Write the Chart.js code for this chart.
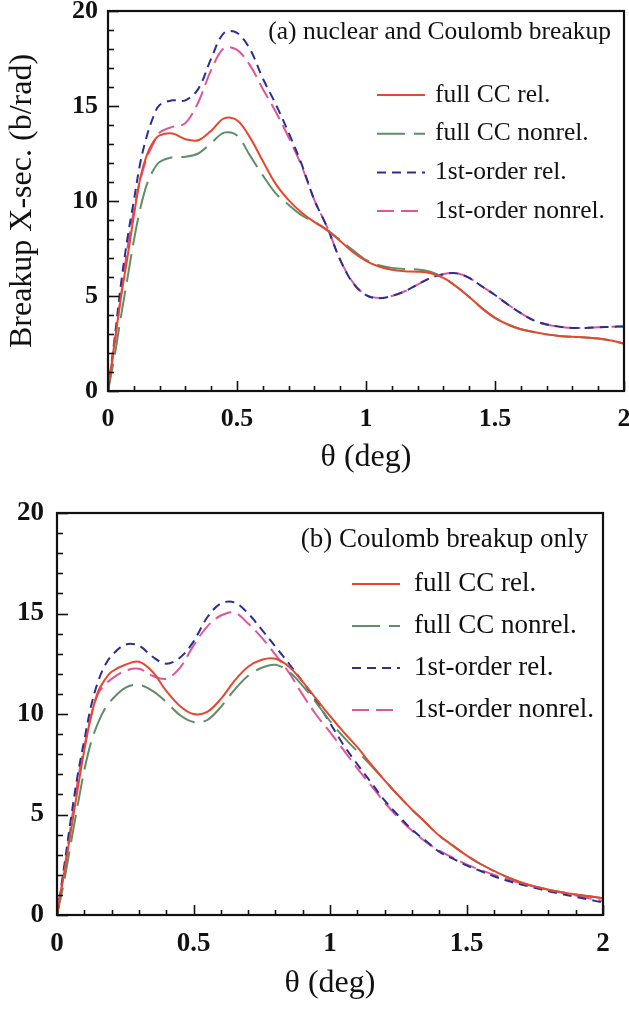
<!DOCTYPE html>
<html>
<head>
<meta charset="utf-8">
<script src="https://cdn.jsdelivr.net/npm/chart.js@4.4.1/dist/chart.umd.min.js"></script>
<style>
  body { margin: 0; background: #fff; }
  .panel { position: absolute; left: 0; }
  #wrapA { top: 0px; }
  #wrapB { top: 480px; }
</style>
</head>
<body>
<div class="panel" id="wrapA"><canvas id="panelA" width="629" height="480"></canvas></div>
<div class="panel" id="wrapB"><canvas id="panelB" width="629" height="531"></canvas></div>
<script>
// scattering angle grid (deg)
const theta = [0, 0.025, 0.05, 0.075, 0.1, 0.125, 0.15, 0.175, 0.2, 0.25, 0.3, 0.35, 0.4, 0.45, 0.5,
  0.55, 0.6, 0.65, 0.7, 0.75, 0.8, 0.85, 0.9, 0.95, 1.0, 1.05, 1.1, 1.15, 1.2, 1.25, 1.3, 1.35, 1.4,
  1.45, 1.5, 1.55, 1.6, 1.65, 1.7, 1.75, 1.8, 1.85, 1.9, 1.95, 2.0];

const seriesNames = ['full CC rel.', 'full CC nonrel.', '1st-order rel.', '1st-order nonrel.'];

// (a) nuclear and Coulomb breakup
const fullRelA = [0, 2.5, 4.9, 7.0, 9.2, 11.2, 12.4, 13.1, 13.45, 13.55, 13.25, 13.2, 13.7, 14.35, 14.25,
  13.35, 12.1, 10.9, 10.05, 9.4, 8.9, 8.45, 7.9, 7.3, 6.85, 6.55, 6.38, 6.3, 6.28, 6.2, 5.95, 5.5, 4.95,
  4.35, 3.85, 3.5, 3.25, 3.1, 2.98, 2.9, 2.85, 2.82, 2.76, 2.66, 2.5];
const fullNonrelA = [0, 1.8, 3.9, 5.9, 7.9, 9.6, 10.85, 11.6, 12.05, 12.3, 12.33, 12.5, 13.05, 13.6, 13.45,
  12.4, 11.35, 10.4, 9.8, 9.25, 8.9, 8.47, 7.95, 7.4, 6.9, 6.62, 6.48, 6.42, 6.4, 6.28, 5.97, 5.5, 4.95,
  4.35, 3.85, 3.5, 3.25, 3.1, 2.98, 2.9, 2.85, 2.82, 2.76, 2.66, 2.5];
const firstRelA = [0, 2.7, 5.6, 8.0, 10.0, 12.0, 13.4, 14.4, 15.05, 15.3, 15.3, 15.9, 17.5, 18.85, 18.85,
  18.0, 16.45, 15.1, 13.6, 11.95, 10.05, 8.6, 6.9, 5.67, 5.05, 4.88, 5.0, 5.25, 5.6, 5.95, 6.15, 6.2, 5.95,
  5.5, 5.05, 4.55, 4.1, 3.72, 3.5, 3.38, 3.32, 3.32, 3.35, 3.38, 3.4];
const firstNonrelA = [0, 2.4, 5.0, 7.5, 9.5, 11.1, 12.25, 13.0, 13.6, 13.9, 14.1, 15.2, 16.9, 18.05, 17.95,
  17.15, 15.9, 14.7, 13.35, 11.85, 10.05, 8.6, 6.9, 5.7, 5.05, 4.9, 5.0, 5.25, 5.6, 5.95, 6.15, 6.2, 5.95,
  5.5, 5.05, 4.55, 4.1, 3.72, 3.5, 3.38, 3.32, 3.32, 3.35, 3.38, 3.4];

// (b) Coulomb breakup only
const fullRelB = [0, 2.0, 4.1, 6.2, 8.2, 9.9, 11.1, 11.7, 12.1, 12.45, 12.6, 12.1, 11.15, 10.4, 10.0,
  10.1, 10.75, 11.65, 12.35, 12.7, 12.75, 12.35, 11.6, 10.75, 9.9, 9.1, 8.35, 7.5, 6.7, 5.95, 5.25, 4.6,
  3.95, 3.45, 2.97, 2.55, 2.2, 1.88, 1.62, 1.42, 1.26, 1.13, 1.02, 0.93, 0.83];
const fullNonrelB = [0, 1.6, 3.5, 5.4, 7.2, 8.6, 9.55, 10.25, 10.7, 11.3, 11.45, 11.15, 10.6, 9.95, 9.6,
  9.7, 10.35, 11.2, 11.9, 12.3, 12.45, 12.1, 11.4, 10.55, 9.65, 8.85, 8.15, 7.45, 6.7, 5.95, 5.25, 4.6,
  3.95, 3.45, 2.97, 2.55, 2.2, 1.88, 1.62, 1.42, 1.26, 1.13, 1.02, 0.93, 0.83];
const firstRelB = [0, 2.3, 4.7, 6.9, 8.7, 10.4, 11.6, 12.4, 12.9, 13.45, 13.4, 12.85, 12.5, 12.8, 13.6,
  14.8, 15.5, 15.55, 15.0, 14.2, 13.35, 12.5, 11.6, 10.65, 9.55, 8.45, 7.5, 6.6, 5.7, 4.95, 4.25, 3.7,
  3.15, 2.8, 2.47, 2.2, 1.93, 1.7, 1.52, 1.35, 1.18, 1.04, 0.9, 0.76, 0.62];
const firstNonrelB = [0, 2.1, 4.4, 6.6, 8.4, 9.9, 11.0, 11.45, 11.75, 12.15, 12.25, 11.9, 11.75, 12.3, 13.4,
  14.35, 14.9, 15.05, 14.5, 13.8, 12.95, 12.05, 10.95, 9.95, 9.1, 8.2, 7.3, 6.45, 5.6, 4.85, 4.2, 3.65,
  3.2, 2.85, 2.52, 2.25, 2.0, 1.78, 1.58, 1.42, 1.26, 1.1, 0.97, 0.83, 0.7];

const xTicks = [0, 0.5, 1, 1.5, 2];
const xTickLabels = ['0', '0.5', '1', '1.5', '2'];
const yTicks = [0, 5, 10, 15, 20];
const yTickLabels = ['0', '5', '10', '15', '20'];

const colors = ['#e8472f', '#5e8f66', '#2b2f93', '#e0559a'];
const dashes = [[], [28, 9], [9, 6], [17, 7]];
const serif = '"Liberation Serif", "DejaVu Serif", serif';

// box + inward ticks
const frameTicks = {
  id: 'frameTicks',
  afterDatasetsDraw(chart) {
    const { ctx, chartArea: a, scales: { x, y } } = chart;
    ctx.save();
    ctx.strokeStyle = '#111';
    ctx.lineWidth = 1.6;
    for (let i = 0; i <= 20; i++) {
      const px = Math.round(x.getPixelForValue(i * 0.1)) + 0.5;
      const len = i % 5 === 0 ? 10 : 5;
      ctx.beginPath(); ctx.moveTo(px, a.bottom); ctx.lineTo(px, a.bottom - len); ctx.stroke();
    }
    for (let v = 0; v <= 20; v++) {
      const py = Math.round(y.getPixelForValue(v)) + 0.5;
      const len = v % 5 === 0 ? 11 : 6;
      ctx.beginPath(); ctx.moveTo(a.left, py); ctx.lineTo(a.left + len, py); ctx.stroke();
    }
    ctx.lineWidth = 2.2;
    ctx.strokeRect(a.left, a.top, a.right - a.left, a.bottom - a.top);
    ctx.restore();
  }
};

// panel caption and legend inside the plot
const panelText = {
  id: 'panelText',
  afterDraw(chart, args, o) {
    const { ctx } = chart;
    ctx.save();
    ctx.fillStyle = '#111';
    ctx.font = o.fontSize + 'px ' + serif;
    ctx.textBaseline = 'middle';
    ctx.textAlign = 'right';
    ctx.fillText(o.caption, o.captionX, o.captionY);
    ctx.textAlign = 'left';
    chart.data.datasets.forEach((ds, i) => {
      const yy = o.legendY + i * o.rowGap;
      ctx.strokeStyle = ds.borderColor;
      ctx.lineWidth = ds.borderWidth;
      ctx.setLineDash(ds.borderDash);
      ctx.beginPath(); ctx.moveTo(o.lineX0, yy); ctx.lineTo(o.lineX1, yy); ctx.stroke();
      ctx.setLineDash([]);
      ctx.fillText(ds.label, o.textX, yy);
    });
    ctx.restore();
  }
};

function makePanel(id, series, p) {
  const datasets = series.map((vals, i) => ({
    label: seriesNames[i],
    data: theta.map((t, k) => ({ x: t, y: vals[k] })),
    borderColor: colors[i],
    borderDash: dashes[i],
    borderWidth: 2,
    pointRadius: 0,
    fill: false,
    tension: 0.35
  }));
  return new Chart(document.getElementById(id), {
    type: 'line',
    data: { datasets },
    plugins: [frameTicks, panelText],
    options: {
      responsive: false,
      animation: false,
      layout: { padding: { top: p.top, right: p.right, left: 0, bottom: 0 } },
      plugins: { legend: { display: false }, tooltip: { enabled: false }, panelText: p.text },
      scales: {
        x: {
          type: 'linear', min: 0, max: 2,
          grid: { display: false, drawTicks: false },
          border: { display: false },
          afterBuildTicks: s => { s.ticks = xTicks.map(v => ({ value: v })); },
          afterFit: s => { s.height = p.xHeight; s.paddingLeft = 0; s.paddingRight = 0; },
          ticks: {
            padding: p.xPad, color: '#111', maxRotation: 0, autoSkip: false,
            font: { family: serif, size: p.tickSize, weight: 'bold' },
            callback: v => xTickLabels[xTicks.indexOf(v)]
          },
          title: {
            display: true, text: 'θ (deg)', color: '#111',
            font: { family: serif, size: 32, lineHeight: 1.2 },
            padding: { top: 0, bottom: p.xTitlePad }
          }
        },
        y: {
          type: 'linear', min: 0, max: 20,
          grid: { display: false, drawTicks: false },
          border: { display: false },
          afterBuildTicks: s => { s.ticks = yTicks.map(v => ({ value: v })); },
          afterFit: s => { s.width = p.yWidth; s.paddingTop = 0; s.paddingBottom = 0; },
          ticks: {
            padding: p.yPad, color: '#111', autoSkip: false,
            font: { family: serif, size: p.tickSize, weight: 'bold' },
            callback: v => yTickLabels[yTicks.indexOf(v)]
          },
          title: {
            display: p.yTitle !== '', text: p.yTitle, color: '#111',
            font: { family: serif, size: 32, lineHeight: 1.2 },
            padding: { top: 3, bottom: 0 }
          }
        }
      }
    }
  });
}

makePanel('panelA', [fullRelA, fullNonrelA, firstRelA, firstNonrelA], {
  top: 11, right: 5, xHeight: 89, yWidth: 108, xPad: 13, yPad: 10, xTitlePad: 3, tickSize: 26,
  yTitle: 'Breakup X-sec. (b/rad)',
  text: { caption: '(a) nuclear and Coulomb breakup', captionX: 611, captionY: 32, fontSize: 25.5,
    lineX0: 377, lineX1: 425, textX: 435, legendY: 95, rowGap: 38.7 }
});

makePanel('panelB', [fullRelB, fullNonrelB, firstRelB, firstNonrelB], {
  top: 33, right: 26, xHeight: 96, yWidth: 57, xPad: 13, yPad: 13, xTitlePad: 8, tickSize: 27,
  yTitle: '',
  text: { caption: '(b) Coulomb breakup only', captionX: 588, captionY: 60, fontSize: 27,
    lineX0: 352, lineX1: 400, textX: 414, legendY: 104, rowGap: 42 }
});
</script>
</body>
</html>
